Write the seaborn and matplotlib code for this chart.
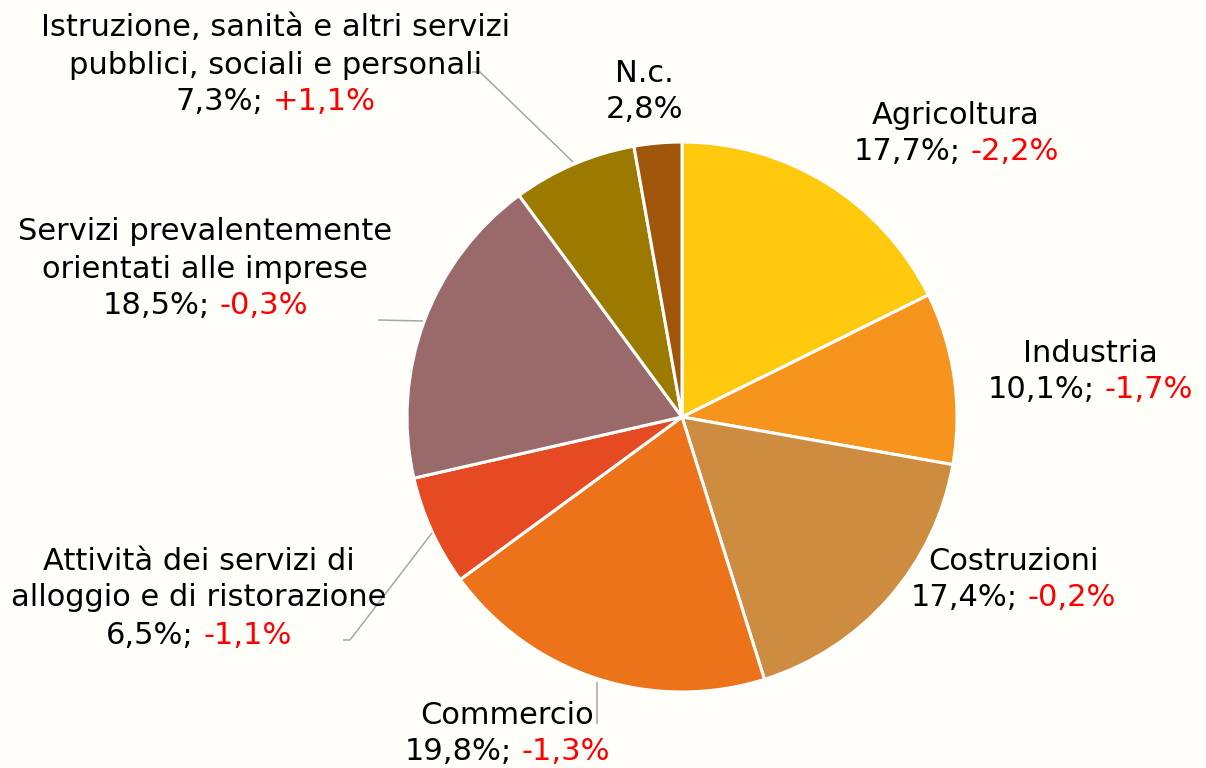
import matplotlib
matplotlib.use("Agg")
import matplotlib.pyplot as plt
import seaborn as sns

# ─── data ─────────────────────────────────────────────────────────────────────
sectors = [
    "Agricoltura",
    "Industria",
    "Costruzioni",
    "Commercio",
    "Attività dei servizi di\nalloggio e di ristorazione",
    "Servizi prevalentemente\norientati alle imprese",
    "Istruzione, sanità e altri servizi\npubblici, sociali e personali",
    "N.c.",
]
shares = [17.7, 10.1, 17.4, 19.8, 6.5, 18.5, 7.3, 2.8]
changes = [-2.2, -1.7, -0.2, -1.3, -1.1, -0.3, 1.1, None]
colors = ["#FFC90E", "#F7941D", "#CD8C3F", "#EC7319",
          "#E54A22", "#9A6A6A", "#9C7A00", "#A0560A"]

# label centre x and first-line y (pixels from top), line spacing
label_pos = [(956, 115), (1090, 353), (1013, 561), (507, 715),
             (199, 561), (205, 232), (276, 28), (644, 73)]
LINE = 37

# leader lines (pixels from top)
leaders = [
    [(472, 72), (480, 72), (573, 162)],
    [(378, 320), (423, 321)],
    [(343, 640), (350, 640), (432, 533)],
    [(597, 682), (597, 724)],
]

W, H = 1206, 768
BG = "#FFFEF8"
FS = 22


def it_fmt(v, sign=False):
    s = f"{v:+.1f}" if sign else f"{v:.1f}"
    return s.replace(".", ",") + "%"


sns.set_theme(style="white")
plt.rcParams["font.family"] = ["DejaVu Sans"]

fig = plt.figure(figsize=(W / 100, H / 100), dpi=100, facecolor=BG)
ax = fig.add_axes([0, 0, 1, 1])
ax.set_facecolor(BG)

ax.pie(shares, colors=colors, startangle=90, counterclock=False,
       center=(682, H - 417), radius=275, frame=True,
       wedgeprops=dict(edgecolor="white", linewidth=2.2))
ax.set_xlim(0, W)
ax.set_ylim(0, H)
ax.set_aspect("equal")
ax.axis("off")

for pts in leaders:
    xs = [p[0] for p in pts]
    ys = [H - p[1] for p in pts]
    ax.plot(xs, ys, color="#A6A6A6", lw=1.1, solid_capstyle="butt")

renderer = fig.canvas.get_renderer()
for name, share, chg, (cx, cy) in zip(sectors, shares, changes, label_pos):
    lines = name.split("\n")
    for i, ln in enumerate(lines):
        ax.text(cx, H - (cy + i * LINE), ln, ha="center", va="center",
                fontsize=FS, color="black")
    y = H - (cy + len(lines) * LINE)
    if chg is None:
        ax.text(cx, y, it_fmt(share), ha="center", va="center",
                fontsize=FS, color="black")
        continue
    black = it_fmt(share) + ";"
    red = it_fmt(chg, sign=chg > 0)
    # centre the two-colour line as a whole
    full = ax.text(cx, y, black + " " + red, ha="center", va="center",
                   fontsize=FS)
    bb = full.get_window_extent(renderer)
    full.remove()
    ax.text(bb.x0, y, black, ha="left", va="center", fontsize=FS, color="black")
    ax.text(bb.x1, y, red, ha="right", va="center", fontsize=FS, color="#FF0000")

fig.savefig("out.png", dpi=100, facecolor=BG)
